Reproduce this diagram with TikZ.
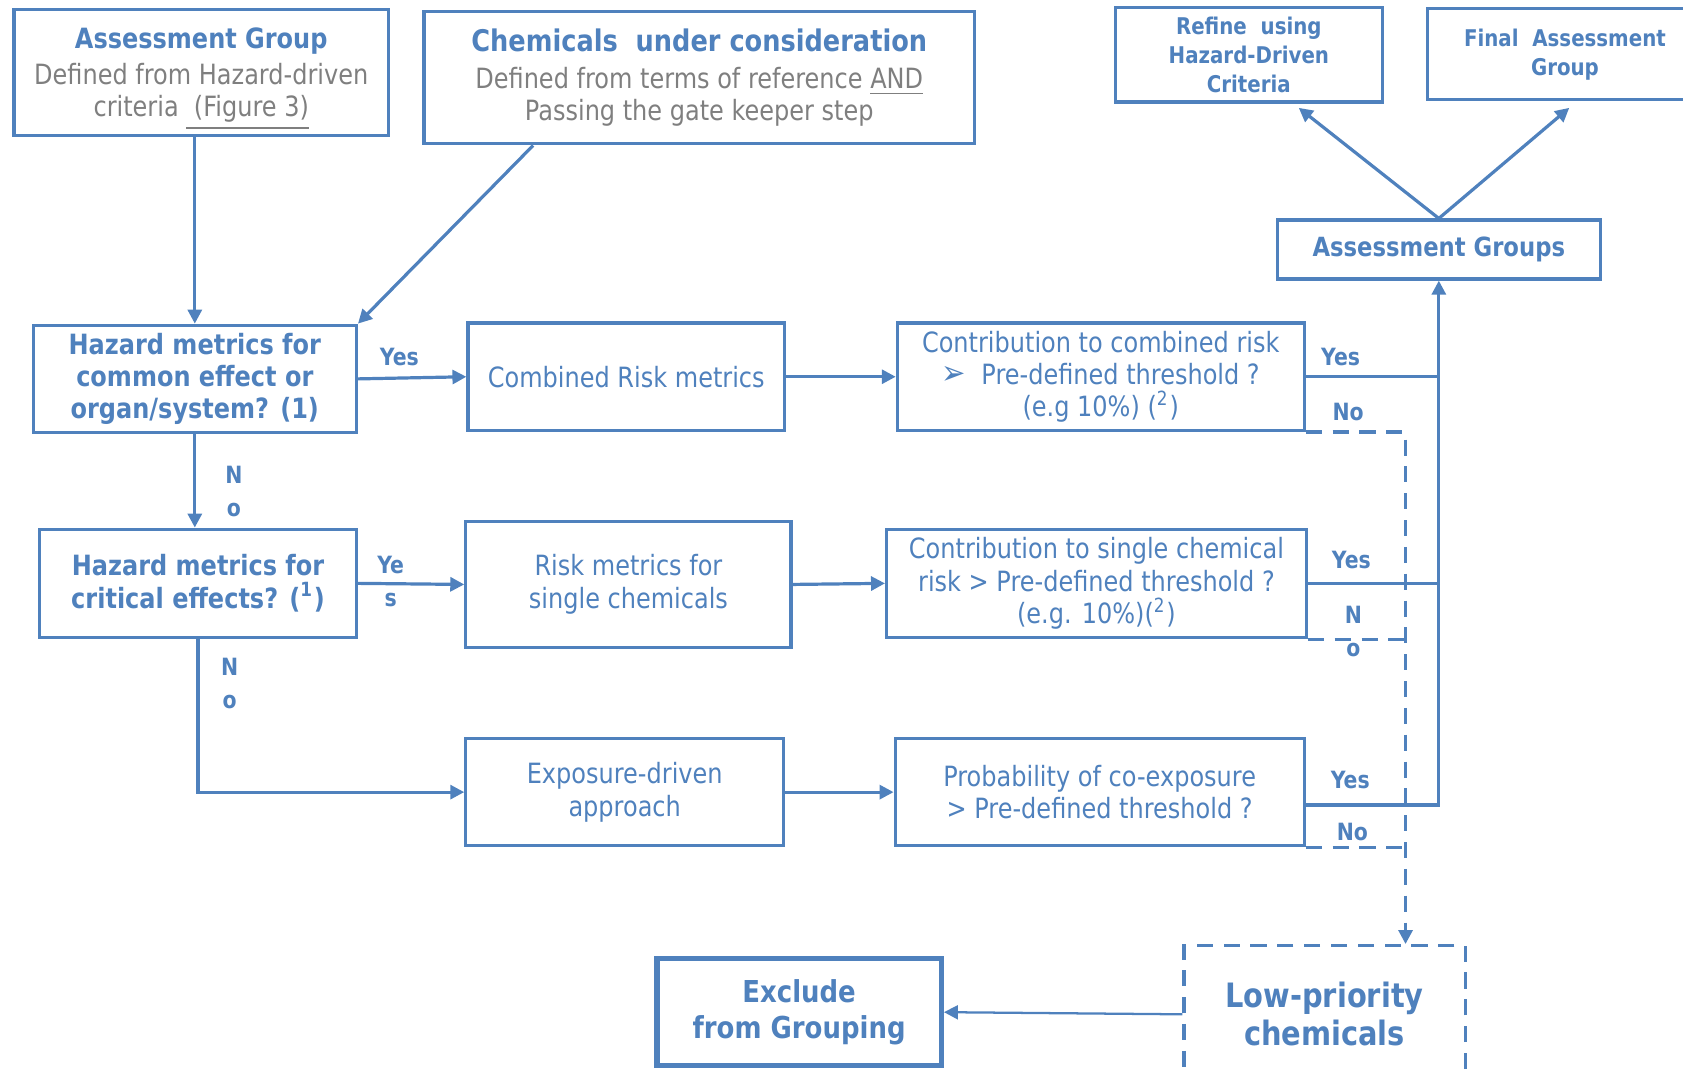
\documentclass[tikz,border=0pt]{standalone}
\usepackage{fontspec}
\setmainfont{DejaVu Sans}[FakeStretch=0.86]
\usetikzlibrary{arrows.meta, positioning, calc}
\definecolor{ofblue}{HTML}{4F81BD}
\definecolor{ofgray}{HTML}{7F7F7F}
\newcommand{\flatul}[1]{\smash{\underline{#1}}}

\begin{document}
\begin{tikzpicture}[
  >={Triangle[length=1.3mm, width=1.3mm]},
  qbox/.style={
    draw=ofblue, line width=0.85pt, text=ofblue, align=center,
    inner sep=1pt, font=\bfseries\fontsize{7.4}{8.6}\selectfont
  },
  mbox/.style={
    draw=ofblue, line width=0.85pt, text=ofblue, align=center,
    inner sep=1pt, font=\fontsize{7.4}{8.6}\selectfont
  },
  arr/.style={->, line width=0.85pt, draw=ofblue},
  link/.style={line width=0.85pt, draw=ofblue},
  noline/.style={line width=0.85pt, draw=ofblue, dash pattern=on 1.5mm off 1mm},
  yn/.style={font=\bfseries\fontsize{6.3}{8.8}\selectfont, text=ofblue,
    align=center, inner sep=0pt},
]

% Page frame
\path[use as bounding box] (0,0) rectangle (15.68,10.01);
\clip (0,0) rectangle (15.68,10.01);

% =============================================
% Top row: inputs and outcomes
% =============================================
\node[mbox, minimum width=34.9mm, minimum height=11.7mm] (aggroup) at (1.875,9.335)
  {\textbf{Assessment Group}\\[1pt]
   \textcolor{ofgray}{Defined from Hazard-driven}\\
   \textcolor{ofgray}{criteria \flatul{\ (Figure 3)}}};

\node[mbox, minimum width=51.3mm, minimum height=12.3mm] (chem) at (6.515,9.285)
  {{\bfseries\fontsize{7.9}{9.5}\selectfont Chemicals\ \ under consideration}\\[1pt]
   \textcolor{ofgray}{Defined from terms of reference \flatul{AND}}\\
   \textcolor{ofgray}{Passing the gate keeper step}};

\node[qbox, minimum width=24.9mm, minimum height=8.8mm,
      font=\bfseries\fontsize{6.1}{7.7}\selectfont] (refine) at (11.635,9.50)
  {Refine\ \ using\\Hazard-Driven\\Criteria};

\node[qbox, minimum width=25.6mm, minimum height=8.5mm,
      font=\bfseries\fontsize{6.1}{7.7}\selectfont] (final) at (14.58,9.505)
  {Final\ \ Assessment\\Group};

\node[qbox, minimum width=30.1mm, minimum height=5.5mm,
      font=\bfseries\fontsize{7}{8.5}\selectfont] (groups) at (13.405,7.685)
  {Assessment Groups};

\draw[arr] (groups.north) -- ($(refine.south)+(0.465,-0.04)$);
\draw[arr] (groups.north) -- ($(final.south)+(0.04,-0.06)$);

% =============================================
% Row 1: common effect
% =============================================
\node[qbox, minimum width=30.1mm, minimum height=10mm] (haz1) at (1.815,6.48)
  {Hazard metrics for\\common effect or\\organ/system? (1)};
\node[mbox, minimum width=29.5mm, minimum height=10mm] (comb) at (5.835,6.50)
  {Combined Risk metrics};
\node[mbox, minimum width=37.9mm, minimum height=10mm] (contr1) at (10.255,6.50)
  {Contribution to combined risk\\
   {\fontsize{9}{8.6}\selectfont ➢}\ \ Pre-defined threshold ?\\
   (e.g 10\%) (\textsuperscript{2})};

\draw[arr] (haz1.north |- aggroup.south) -- (haz1.north);
\draw[arr] ($(chem.south west)!0.2!(chem.south east)$) -- (haz1.north east);
\draw[arr] (haz1.east) -- (comb.west);
\node[yn] (yes1) at (3.72,6.68) {Yes};
\draw[arr] (comb.east) -- (contr1.west);

% =============================================
% Row 2: critical effects
% =============================================
\node[qbox, minimum width=29.5mm, minimum height=10.1mm] (haz2) at (1.845,4.575)
  {Hazard metrics for\\critical effects? (\textsuperscript{1})};
\node[mbox, minimum width=30.3mm, minimum height=11.7mm] (single) at (5.855,4.565)
  {Risk metrics for\\single chemicals};
\node[mbox, minimum width=39.1mm, minimum height=10.1mm] (contr2) at (10.215,4.575)
  {Contribution to single chemical\\
   risk > Pre-defined threshold ?\\
   (e.g. 10\%)(\textsuperscript{2})};

\draw[arr] (haz1.south) -- (haz1.south |- haz2.north);
\node[yn] (no1) at (2.18,5.43) {N\\o};
\draw[arr] (haz2.east) -- (single.west);
\node[yn] (yes2) at (3.64,4.59) {Ye\\s};
\draw[arr] (single.east) -- (contr2.west);

% =============================================
% Row 3: exposure-driven
% =============================================
\node[mbox, minimum width=29.6mm, minimum height=10mm] (expo) at (5.82,2.63)
  {Exposure-driven\\approach};
\node[mbox, minimum width=38.1mm, minimum height=10mm] (contr3) at (10.245,2.63)
  {Probability of co-exposure\\> Pre-defined threshold ?};

\draw[arr] (haz2.south) |- (expo.west);
\node[yn] (no2) at (2.14,3.64) {N\\o};
\draw[arr] (expo.east) -- (contr3.west);

% =============================================
% Bottom: low priority
% =============================================
\node[qbox, minimum width=26.5mm, minimum height=10mm, line width=1.4pt,
      font=\bfseries\fontsize{8}{9.4}\selectfont] (exclude) at (7.445,0.58)
  {Exclude\\from Grouping};
\node[qbox, minimum width=26.2mm, minimum height=12.8mm,
      dash pattern=on 1.5mm off 1mm,
      font=\bfseries\fontsize{8.9}{10}\selectfont] (lowprio) at (12.34,0.56)
  {Low-priority\\chemicals};
\coordinate (lowin) at ($(lowprio.north east)+(-0.57,0)$);

\draw[->, line width=0.6pt, draw=ofblue] (lowprio.west) -- (exclude.east);

% Yes branches up to the groups
\draw[link] (contr1.east) -- (contr1.east -| groups.south);
\draw[link] (contr2.east) -- (contr2.east -| groups.south);
\draw[arr] ($(contr3.east)+(0,-0.12)$) -| (groups.south);
\node[yn] (yes3) at (12.49,6.68) {Yes};
\node[yn] (yes4) at (12.59,4.79) {Yes};
\node[yn] (yes5) at (12.58,2.74) {Yes};

% No branches down to low priority
\draw[noline, ->] (contr1.south east) -| (lowin);
\draw[noline] (contr2.south east) -- (contr2.south east -| lowin);
\draw[noline] (contr3.south east) -- (contr3.south east -| lowin);
\node[yn] (no3) at (12.56,6.17) {No};
\node[yn] (no4) at (12.61,4.13) {N\\o};
\node[yn] (no5) at (12.60,2.26) {No};

\end{tikzpicture}
\end{document}
